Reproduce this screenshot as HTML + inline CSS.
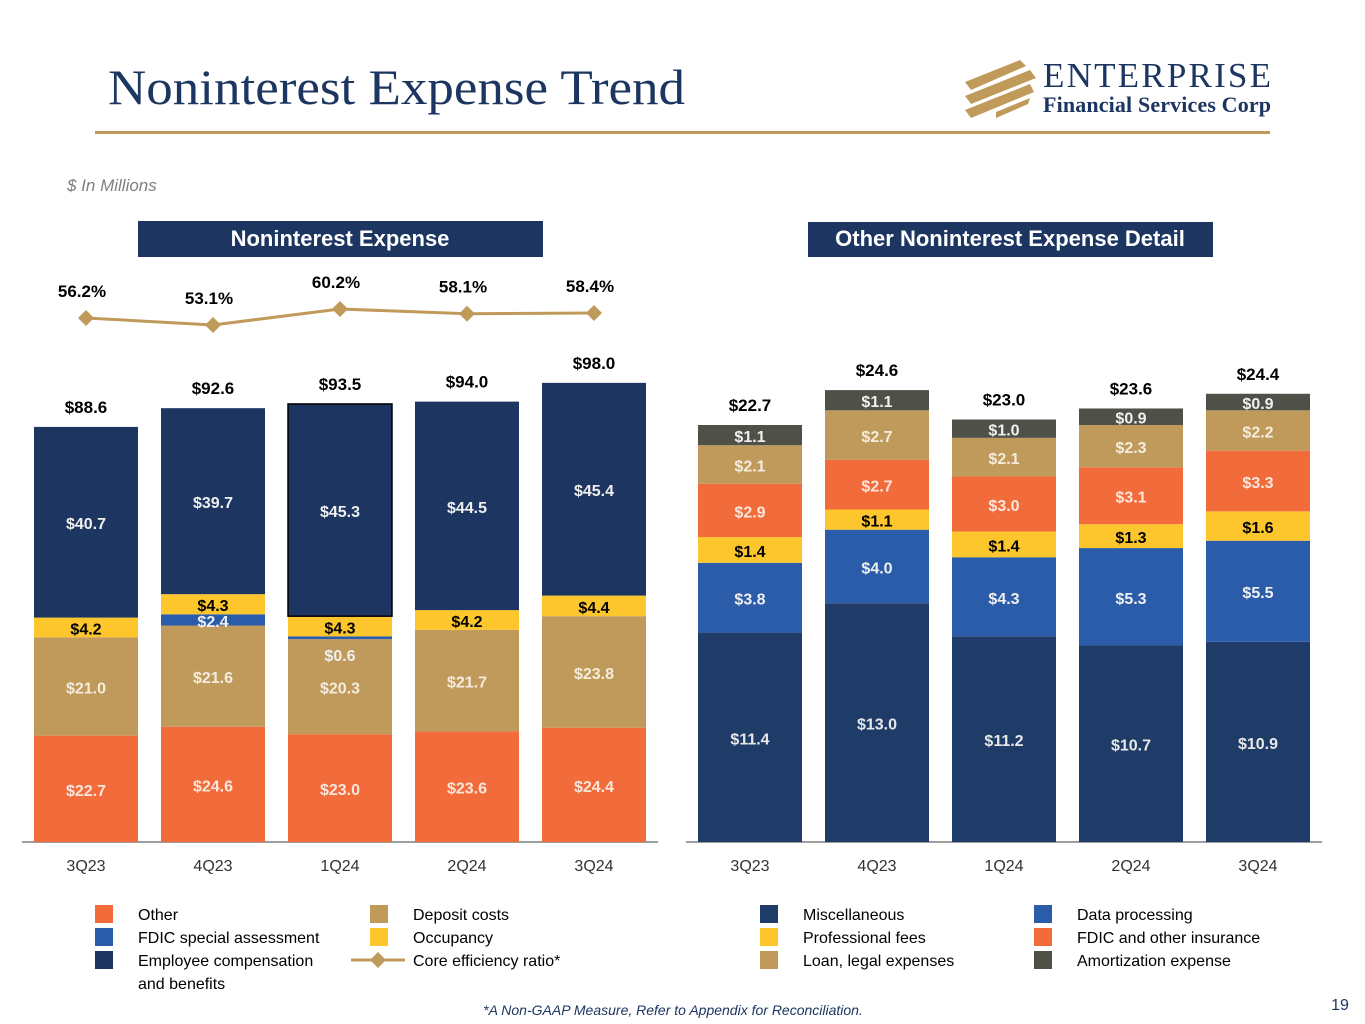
<!DOCTYPE html>
<html><head><meta charset="utf-8">
<style>
body{margin:0;background:#fff;}
svg{display:block;font-family:"Liberation Sans",Arial,sans-serif;}
</style></head>
<body>
<svg id="c" width="1365" height="1024" viewBox="0 0 1365 1024" xmlns="http://www.w3.org/2000/svg">
<text x="108" y="104" font-family="Liberation Serif,serif" font-size="50" fill="#1c3661" textLength="577" lengthAdjust="spacingAndGlyphs">Noninterest Expense Trend</text>
<g>
<polygon points="965,82 1020,60 1026,66 971,90" fill="#c09a5b"/>
<polygon points="965,96 1030,70 1036,78 971,104" fill="#c09a5b"/>
<polygon points="965,110 1030,84 1034,92 971,118" fill="#c09a5b"/>
<polygon points="996,112 1030,98 1028,104 996,118" fill="#c09a5b"/>
<text x="1043" y="87" font-family="Liberation Serif,serif" font-size="35" fill="#1c3661" textLength="228">ENTERPRISE</text>
<text x="1043" y="112" font-family="Liberation Serif,serif" font-size="22" font-weight="bold" fill="#1c3661" textLength="228">Financial Services Corp</text>
</g>
<rect x="95" y="131" width="1175" height="3" fill="#c09a5b"/>
<text x="67" y="191" font-size="17" font-style="italic" fill="#7f7f7f">$ In Millions</text>
<rect x="138" y="221" width="405" height="36" fill="#1c3661"/>
<text x="340" y="246" font-size="22" font-weight="bold" fill="#fff" text-anchor="middle">Noninterest Expense</text>
<rect x="808" y="222" width="405" height="35" fill="#1c3661"/>
<text x="1010" y="246" font-size="22" font-weight="bold" fill="#fff" text-anchor="middle">Other Noninterest Expense Detail</text>
<line x1="22" y1="842" x2="658" y2="842" stroke="#7f7f7f" stroke-width="1.5"/>
<line x1="686" y1="842" x2="1322" y2="842" stroke="#7f7f7f" stroke-width="1.5"/>
<g id="left"></g><g id="right"></g><g id="legend"></g>
<text x="673" y="1015" font-size="14" font-style="italic" fill="#1c3661" text-anchor="middle">*A Non-GAAP Measure, Refer to Appendix for Reconciliation.</text>
<text x="1340" y="1010" font-size="16" fill="#1c3661" text-anchor="middle">19</text>
</svg>
<script>
const quarters=["3Q23","4Q23","1Q24","2Q24","3Q24"];
const other=[22.7,24.6,23.0,23.6,24.4];
const deposit=[21.0,21.6,20.3,21.7,23.8];
const fdicSpecial=[0,2.4,0.6,0,0];
const occupancy=[4.2,4.3,4.3,4.2,4.4];
const employee=[40.7,39.7,45.3,44.5,45.4];
const leftTotals=[88.6,92.6,93.5,94.0,98.0];
const efficiency=[56.2,53.1,60.2,58.1,58.4];
const misc=[11.4,13.0,11.2,10.7,10.9];
const dataProc=[3.8,4.0,4.3,5.3,5.5];
const profFees=[1.4,1.1,1.4,1.3,1.6];
const fdicIns=[2.9,2.7,3.0,3.1,3.3];
const loanLegal=[2.1,2.7,2.1,2.3,2.2];
const amort=[1.1,1.1,1.0,0.9,0.9];
const rightTotals=[22.7,24.6,23.0,23.6,24.4];

const NS="http://www.w3.org/2000/svg";
function mk(parent,tag,attrs,text){const e=document.createElementNS(NS,tag);for(const k in attrs)e.setAttribute(k,attrs[k]);if(text!==undefined)e.textContent=text;parent.appendChild(e);return e;}
const base=842, bw=104;
const xL=i=>86+i*127, xR=i=>750+i*127;
const yL=v=>v*4.685, yR=v=>v*18.37;
const yEff=v=>318-(v-56.2)*2.25;
const fmt=v=>"$"+v.toFixed(1);

function drawStack(g,series,xf,sc,totals,prefix){
  quarters.forEach((q,i)=>{
    let y=base;
    series.forEach(s=>{
      const v=s.vals[i]; if(!v) return;
      const h=sc(v); y-=h;
      const r=mk(g,'rect',{x:xf(i)-bw/2,y:y,width:bw,height:h,fill:s.color});
      
      
      if(s.outline&&i===2){r.setAttribute('stroke','#000');r.setAttribute('stroke-width','1.5');}
      const ly=(v<1&&prefix==='left')?y+h+22:y+h/2+7;
      const t=mk(g,'text',{x:xf(i),y:ly,'text-anchor':'middle','font-size':16,'font-weight':'bold',fill:s.tc},fmt(v));
      
      
    });
    const tt=mk(g,'text',{x:xf(i),y:base-sc(totals[i])-14,'text-anchor':'middle','font-size':17,'font-weight':'bold',fill:'#000'},fmt(totals[i]));
    
    
    const ql=mk(g,'text',{x:xf(i),y:871,'text-anchor':'middle','font-size':16,fill:'#333'},q);
    
    
  });
}
const L=document.getElementById('left'), R=document.getElementById('right');
drawStack(L,[
 {key:'other',vals:other,color:'#f26b3a',tc:'#fbe6dc'},
 {key:'deposit',vals:deposit,color:'#c09a5b',tc:'#f5ecdc'},
 {key:'fdic-special',vals:fdicSpecial,color:'#2a5caa',tc:'#f0f0f0'},
 {key:'occupancy',vals:occupancy,color:'#fdc62c',tc:'#000'},
 {key:'employee',vals:employee,color:'#1c3661',tc:'#f0f0f0',outline:true}
],xL,yL,leftTotals,'left');
drawStack(R,[
 {key:'misc',vals:misc,color:'#1f3c69',tc:'#e8e8e8'},
 {key:'data-processing',vals:dataProc,color:'#2a5caa',tc:'#f0f0f0'},
 {key:'professional-fees',vals:profFees,color:'#fdc62c',tc:'#000'},
 {key:'fdic-insurance',vals:fdicIns,color:'#f26b3a',tc:'#fbe6dc'},
 {key:'loan-legal',vals:loanLegal,color:'#c09a5b',tc:'#f5ecdc'},
 {key:'amortization',vals:amort,color:'#4f5048',tc:'#f0f0f0'}
],xR,yR,rightTotals,'right');

const pts=efficiency.map((v,i)=>xL(i)+','+yEff(v)).join(' ');
const pl=mk(L,'polyline',{points:pts,fill:'none',stroke:'#c09a5b','stroke-width':3});


efficiency.forEach((v,i)=>{
  const x=xL(i),y=yEff(v);
  const d=mk(L,'polygon',{points:`${x},${y-8} ${x+8},${y} ${x},${y+8} ${x-8},${y}`,fill:'#c09a5b'});
  
  
  const t=mk(L,'text',{x:x-4,y:y-21,'text-anchor':'middle','font-size':17,'font-weight':'bold',fill:'#000'},v.toFixed(1)+'%');
  
  
});

const Lg=document.getElementById('legend');
const legendItems=[
 [95,'Other','#f26b3a',0],[95,'FDIC special assessment','#2a5caa',1],[95,'Employee compensation','#1c3661',2],
 [370,'Deposit costs','#c09a5b',0],[370,'Occupancy','#fdc62c',1],
 [760,'Miscellaneous','#1f3c69',0],[760,'Professional fees','#fdc62c',1],[760,'Loan, legal expenses','#c09a5b',2],
 [1034,'Data processing','#2a5caa',0],[1034,'FDIC and other insurance','#f26b3a',1],[1034,'Amortization expense','#4f5048',2]
];
legendItems.forEach(([x,label,c,r])=>{
  const y=905+r*23;
  const s=mk(Lg,'rect',{x:x,y:y,width:18,height:18,fill:c});
  
  
  const t=mk(Lg,'text',{x:x+43,y:y+15,'font-size':16,fill:'#000'},label);
  
  
});
const t2=mk(Lg,'text',{x:138,y:989,'font-size':16,fill:'#000'},'and benefits');


const ll=mk(Lg,'line',{x1:351,y1:960,x2:405,y2:960,stroke:'#c09a5b','stroke-width':3});


const ld=mk(Lg,'polygon',{points:'378,952 386,960 378,968 370,960',fill:'#c09a5b'});


const lt=mk(Lg,'text',{x:413,y:966,'font-size':16,fill:'#000'},'Core efficiency ratio*');


</script>
</body></html>
